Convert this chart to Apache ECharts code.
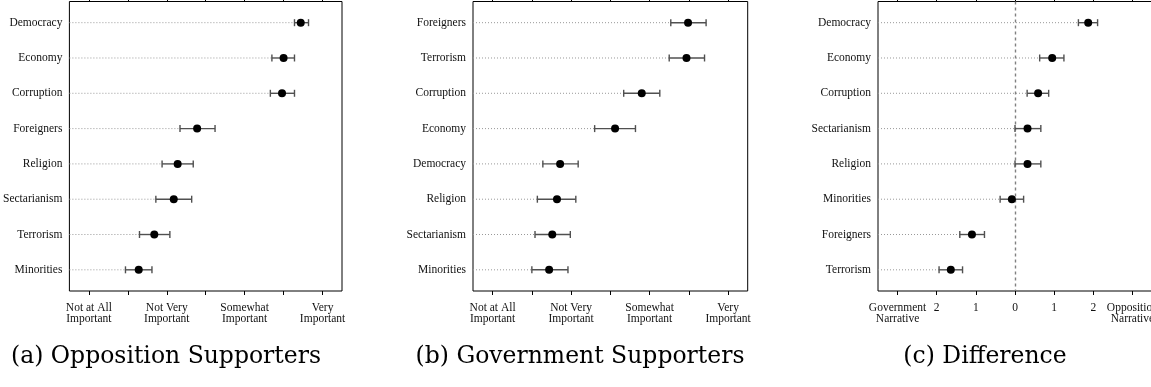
<!DOCTYPE html>
<html lang="en">
<head>
    <meta charset="UTF-8">
    <title>Issue importance</title>
    <style>
        html, body { margin: 0; padding: 0; background: #fff; overflow: hidden; }
    </style>
</head>
<body>
<!-- a little wider than the window so the right edge of panel (c) falls off-screen -->
<div id="main" style="width: 1165px;height:387px;"></div>
<script src="https://cdn.jsdelivr.net/npm/echarts@6/dist/echarts.min.js"></script>
<script type="text/javascript">
    // panel (a) opposition supporters
    var oppCats = ["Democracy", "Economy", "Corruption", "Foreigners", "Religion", "Sectarianism", "Terrorism", "Minorities"];
    var oppEst = [3.72, 3.50, 3.48, 2.39, 2.14, 2.09, 1.84, 1.64];
    var oppLo  = [3.64, 3.35, 3.33, 2.17, 1.94, 1.86, 1.65, 1.47];
    var oppHi  = [3.82, 3.64, 3.64, 2.62, 2.34, 2.32, 2.04, 1.81];

    // panel (b) government supporters
    var govCats = ["Foreigners", "Terrorism", "Corruption", "Economy", "Democracy", "Religion", "Sectarianism", "Minorities"];
    var govEst = [3.49, 3.47, 2.90, 2.56, 1.86, 1.82, 1.76, 1.72];
    var govLo  = [3.27, 3.25, 2.67, 2.30, 1.64, 1.57, 1.54, 1.50];
    var govHi  = [3.72, 3.70, 3.13, 2.82, 2.09, 2.06, 1.99, 1.96];

    // panel (c) difference
    var diffCats = ["Democracy", "Economy", "Corruption", "Sectarianism", "Religion", "Minorities", "Foreigners", "Terrorism"];
    var diffEst = [1.87, 0.95, 0.59, 0.32, 0.32, -0.08, -1.10, -1.64];
    var diffLo  = [1.62, 0.63, 0.31, 0.00, 0.00, -0.38, -1.41, -1.94];
    var diffHi  = [2.11, 1.25, 0.86, 0.66, 0.66, 0.22, -0.78, -1.34];

    // tick labels
    var scaleTicks = [1, 1.5, 2, 2.5, 3, 3.5, 4];
    var scaleLabelValues = [1, 2, 3, 4];
    var scaleLabels = ["Not at All\nImportant", "Not Very\nImportant", "Somewhat\nImportant", "Very\nImportant"];
    var diffTicks = [-3, -2, -1, 0, 1, 2, 3];
    var diffLabels = ["Government\nNarrative", "2", "1", "0", "1", "2", "Opposition\nNarrative"];

    var captions = ["(a) Opposition Supporters", "(b) Government Supporters", "(c) Difference"];

    var labelFont = "Liberation Serif";
    var rows = [1, 2, 3, 4, 5, 6, 7, 8];

    var myChart = echarts.init(document.getElementById("main"));

    function makeRows(est, lo, hi) {
        var out = [];
        for (var i = 0; i < est.length; i++) {
            out.push([i + 1, est[i], lo[i], hi[i]]);
        }
        return out;
    }

    // dotted guide + error bar + point
    function barRenderer(xMin) {
        return function (params, api) {
            var row = api.value(0);
            var pLeft = api.coord([xMin, row]);
            var pEst = api.coord([api.value(1), row]);
            var pLo = api.coord([api.value(2), row]);
            var pHi = api.coord([api.value(3), row]);
            var y = pEst[1];
            var cap = 3.5;
            var barStyle = {stroke: "#505050", lineWidth: 1.4};
            return {
                type: "group",
                children: [
                    {type: "line", shape: {x1: pLeft[0], y1: y, x2: pLo[0], y2: y},
                        style: {stroke: "#999", lineWidth: 1, lineDash: [1, 2]}},
                    {type: "line", shape: {x1: pLo[0], y1: y, x2: pHi[0], y2: y}, style: barStyle},
                    {type: "line", shape: {x1: pLo[0], y1: y - cap, x2: pLo[0], y2: y + cap}, style: barStyle},
                    {type: "line", shape: {x1: pHi[0], y1: y - cap, x2: pHi[0], y2: y + cap}, style: barStyle},
                    {type: "circle", shape: {cx: pEst[0], cy: y, r: 4}, style: {fill: "#000"}}
                ]
            };
        };
    }

    var grids = [
        {left: 69, top: 1.5, width: 273, height: 289.5},
        {left: 473, top: 1.5, width: 274.7, height: 289.5},
        {left: 878, top: 1.5, width: 274, height: 289.5}
    ];
    var xRanges = [[0.75, 4.25], [0.75, 4.25], [-3.5, 3.5]];
    var catLists = [oppCats, govCats, diffCats];
    var dataLists = [
        makeRows(oppEst, oppLo, oppHi),
        makeRows(govEst, govLo, govHi),
        makeRows(diffEst, diffLo, diffHi)
    ];

    var xAxes = [], yAxes = [], series = [];
    for (var g = 0; g < 3; g++) {
        var isDiff = g === 2;
        var ticks = isDiff ? diffTicks : scaleTicks;
        var labelVals = isDiff ? diffTicks : scaleLabelValues;
        var labelTxt = isDiff ? diffLabels : scaleLabels;
        (function (labelVals, labelTxt, cats) {
            xAxes.push({
                type: "value", gridIndex: g, position: "bottom",
                min: xRanges[g][0], max: xRanges[g][1],
                axisLine: {show: false},
                splitLine: {show: false},
                axisTick: {show: true, inside: false, length: 4, customValues: ticks,
                    lineStyle: {color: "#000", width: 1}},
                axisLabel: {
                    customValues: labelVals, margin: 11,
                    fontFamily: labelFont, fontSize: 11.5, lineHeight: 11, color: "#111",
                    formatter: function (v) {
                        var k = labelVals.indexOf(v);
                        return k >= 0 ? labelTxt[k] : "";
                    }
                }
            });
            xAxes.push({
                type: "value", gridIndex: g, position: "top",
                min: xRanges[g][0], max: xRanges[g][1],
                axisLine: {show: false},
                splitLine: {show: false},
                axisTick: {show: true, inside: false, length: 4, customValues: ticks,
                    lineStyle: {color: "#000", width: 1}},
                axisLabel: {show: false}
            });
            yAxes.push({
                type: "value", gridIndex: g, inverse: true,
                min: 0.4, max: 8.6,
                axisLine: {show: false},
                axisTick: {show: false},
                splitLine: {show: false},
                axisLabel: {
                    customValues: rows, margin: 7,
                    fontFamily: labelFont, fontSize: 11.5, color: "#111",
                    formatter: function (v) { return cats[v - 1] || ""; }
                }
            });
        })(labelVals, labelTxt, catLists[g]);

        var s = {
            type: "custom",
            xAxisIndex: g * 2, yAxisIndex: g,
            renderItem: barRenderer(xRanges[g][0]),
            encode: {x: [1, 2, 3], y: 0},
            data: dataLists[g],
            z: 5
        };
        if (isDiff) {
            // zero reference line
            s.markLine = {
                silent: true, symbol: "none", label: {show: false},
                lineStyle: {color: "#808080", type: [3, 3], width: 1.4},
                data: [{xAxis: 0}]
            };
        }
        series.push(s);
    }

    var graphic = [];
    var captionX = [166, 580, 985];
    for (var c = 0; c < 3; c++) {
        graphic.push({
            type: "text", x: captionX[c], y: 357,
            style: {
                text: captions[c], fill: "#000",
                font: "23.5px 'DejaVu Serif'",
                textAlign: "center", textVerticalAlign: "middle"
            }
        });
    }

    var option = {
        animation: false,
        backgroundColor: "#fff",
        grid: grids.map(function (gr) {
            return {left: gr.left, top: gr.top, width: gr.width, height: gr.height,
                show: true, borderColor: "#000", borderWidth: 1, backgroundColor: "transparent"};
        }),
        xAxis: xAxes,
        yAxis: yAxes,
        series: series,
        graphic: graphic
    };

    myChart.setOption(option);
</script>
</body>
</html>
